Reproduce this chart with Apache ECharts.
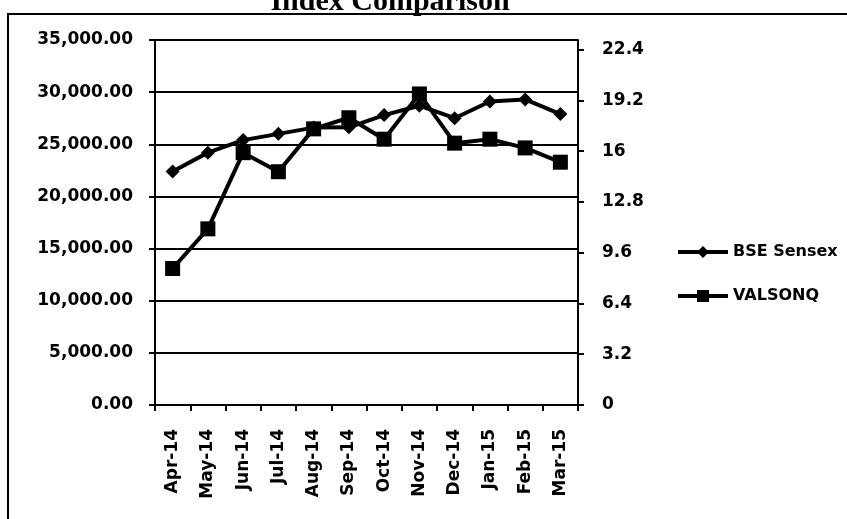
<!DOCTYPE html>
<html>
<head>
<meta charset="utf-8">
<script src="https://cdn.jsdelivr.net/npm/echarts@6/dist/echarts.min.js"></script>
<style>
html, body { margin: 0; padding: 0; background: #fff; }
#chart { width: 847px; height: 519px; }
</style>
</head>
<body>
<div id="chart"></div>
<script>
// months on the x axis
var months = ['Apr-14', 'May-14', 'Jun-14', 'Jul-14', 'Aug-14', 'Sep-14', 'Oct-14', 'Nov-14', 'Dec-14', 'Jan-15', 'Feb-15', 'Mar-15'];
// BSE Sensex (left axis)
var sensex = [22400, 24200, 25400, 26000, 26600, 26630, 27800, 28700, 27500, 29100, 29300, 27900];
// VALSONQ (right axis)
var valsonq = [8.6, 11.1, 15.9, 14.7, 17.4, 18.1, 16.75, 19.6, 16.5, 16.75, 16.2, 15.3];

var chart = echarts.init(document.getElementById('chart'));

function fmtLeft(v) {
    var s = v.toFixed(2).split('.');
    s[0] = s[0].replace(/\B(?=(\d{3})+(?!\d))/g, ',');
    return s.join('.');
}

var labelFont = { color: '#000', fontFamily: 'DejaVu Sans', fontWeight: 'bold', fontSize: 17 };

var option = {
    animation: false,
    backgroundColor: '#fff',
    title: {
        text: 'Index Comparison',
        left: 385,
        textAlign: 'center',
        top: -18,
        textStyle: { fontFamily: 'Liberation Serif', fontWeight: 'bold', fontSize: 30, color: '#000' }
    },
    graphic: [{
        type: 'rect',
        shape: { x: 8, y: 14, width: 900, height: 600 },
        style: { fill: 'none', stroke: '#000', lineWidth: 2 },
        silent: true
    }],
    legend: {
        orient: 'vertical',
        left: 671,
        top: 239,
        itemGap: 28,
        itemWidth: 50,
        itemHeight: 15,
        lineStyle: { width: 4, color: '#000' },
        textStyle: Object.assign({}, labelFont, { fontSize: 16 }),
        data: ['BSE Sensex', 'VALSONQ']
    },
    grid: { left: 155, right: 269, top: 40, bottom: 114 },
    xAxis: {
        type: 'category',
        data: months,
        boundaryGap: true,
        axisLine: { lineStyle: { color: '#000', width: 2 } },
        axisTick: { show: true, length: 6, lineStyle: { color: '#000', width: 2 } },
        axisLabel: Object.assign({ rotate: 90, margin: 24, interval: 0 }, labelFont)
    },
    yAxis: [{
        type: 'value',
        min: 0,
        max: 35000,
        interval: 5000,
        axisLine: { show: true, lineStyle: { color: '#000', width: 2 } },
        axisTick: { show: true, length: 6, lineStyle: { color: '#000', width: 2 } },
        splitLine: { show: true, lineStyle: { color: '#000', width: 2 } },
        axisLabel: Object.assign({ margin: 22, formatter: fmtLeft }, labelFont)
    }, {
        type: 'value',
        min: 0,
        max: 23,
        interval: 3.2,
        position: 'right',
        axisLine: { show: true, lineStyle: { color: '#000', width: 2 } },
        axisTick: { show: true, length: 6, lineStyle: { color: '#000', width: 2 } },
        splitLine: { show: false },
        axisLabel: Object.assign({
            margin: 24,
            showMaxLabel: false,
            formatter: function (v) { return String(parseFloat(v.toFixed(1))); }
        }, labelFont)
    }],
    series: [{
        name: 'BSE Sensex',
        type: 'line',
        yAxisIndex: 0,
        data: sensex,
        symbol: 'diamond',
        symbolSize: 14,
        itemStyle: { color: '#000' },
        lineStyle: { color: '#000', width: 4 }
    }, {
        name: 'VALSONQ',
        type: 'line',
        yAxisIndex: 1,
        data: valsonq,
        symbol: 'rect',
        symbolSize: 15,
        itemStyle: { color: '#000' },
        lineStyle: { color: '#000', width: 4 }
    }]
};

chart.setOption(option);
</script>
</body>
</html>
